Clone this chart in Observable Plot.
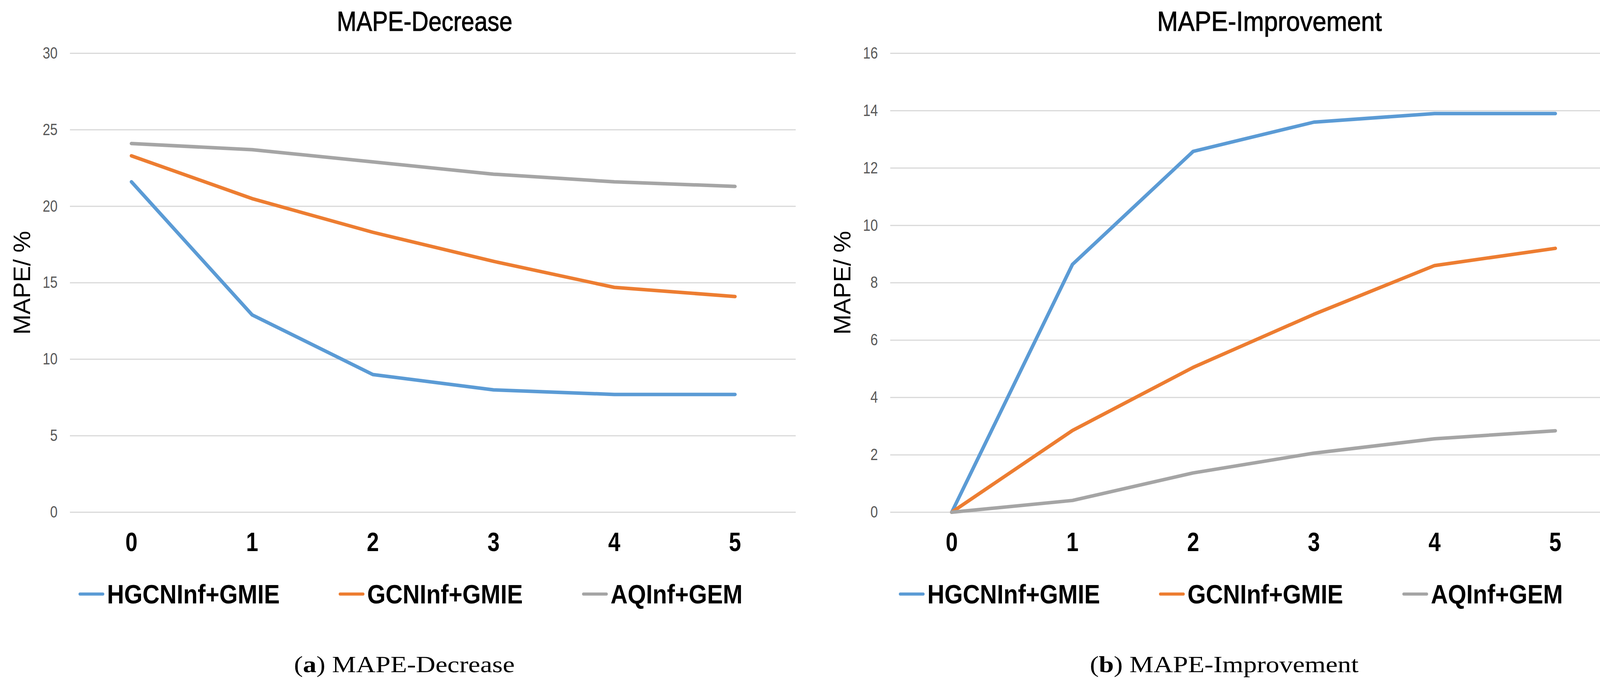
<!DOCTYPE html>
<html>
<head>
<meta charset="utf-8">
<script src="https://cdn.jsdelivr.net/npm/d3@7"></script>
<script src="https://cdn.jsdelivr.net/npm/@observablehq/plot@0.6"></script>
<style>
  html, body { margin: 0; padding: 0; background: #fff; }
  #wrap { position: relative; width: 4168px; height: 1759px; overflow: hidden; background: #fff; }
  .panel { position: absolute; top: 0; }
  .title { position: absolute; top: 19px; font-family: "Liberation Sans", Arial, sans-serif; font-size: 71px;
           line-height: 1; color: #000; white-space: nowrap; transform-origin: center; -webkit-text-stroke: 1.2px #000; }
  .legend { position: absolute; top: 1487px; display: flex; align-items: center; gap: 151px; }
  .item { display: flex; align-items: center; }
  .sw { display: inline-block; width: 66px; height: 8px; border-radius: 4px; margin-right: 7px; }
  .lt { display: inline-block; font-family: "Liberation Sans", Arial, sans-serif; font-weight: bold; font-size: 68px;
        line-height: 1; color: #000; white-space: nowrap; transform: scaleX(0.89); transform-origin: left center; }
  .cap { position: absolute; top: 1671px; font-family: "Liberation Serif", "Times New Roman", serif; font-size: 60px;
         line-height: 1; color: #000; white-space: nowrap; }
</style>
</head>
<body>
<div id="wrap"></div>
<script>
// ---- data ----
const steps = [0, 1, 2, 3, 4, 5];
const seriesNames = ["HGCNInf+GMIE", "GCNInf+GMIE", "AQInf+GEM"];
const seriesColors = ["#5B9BD5", "#ED7D31", "#A5A5A5"];

// (a) MAPE-Decrease
const decHGCN = [21.6, 12.9, 9.0, 8.0, 7.7, 7.7];
const decGCN  = [23.3, 20.5, 18.3, 16.4, 14.7, 14.1];
const decAQ   = [24.1, 23.7, 22.9, 22.1, 21.6, 21.3];
const decTicks = [0, 5, 10, 15, 20, 25, 30];

// (b) MAPE-Improvement
const impHGCN = [0, 8.64, 12.58, 13.6, 13.9, 13.9];
const impGCN  = [0, 2.85, 5.05, 6.9, 8.6, 9.2];
const impAQ   = [0, 0.41, 1.37, 2.06, 2.56, 2.84];
const impTicks = [0, 2, 4, 6, 8, 10, 12, 14, 16];

const titles = ["MAPE-Decrease", "MAPE-Improvement"];
const captionTags = ["a", "b"];
const yTitle = "MAPE/ %";

function toRows(arrs) {
  const rows = [];
  arrs.forEach((arr, si) => arr.forEach((v, i) => rows.push({step: steps[i], value: v, series: seriesNames[si]})));
  return rows;
}

const tickFont = "Liberation Sans, Arial, sans-serif";
const tickSqueeze = 0.82;

// narrow the tick labels horizontally, keeping each label's anchor point
function squeeze(svg, label, sx) {
  svg.querySelectorAll(`g[aria-label="${label}"] text`).forEach(t => {
    const list = t.transform && t.transform.baseVal;
    if (!list || !list.numberOfItems) return;
    const m = list.consolidate().matrix;
    t.setAttribute("transform", `matrix(${sx},0,0,1,${m.e},${m.f})`);
  });
}

const wrap = document.getElementById("wrap");

function panel(rows, ticks, domainMax, left, mLeft, mRight) {
  const chart = Plot.plot({
    width: 2084,
    height: 1430,
    marginTop: 136,
    marginBottom: 119,
    marginLeft: mLeft,
    marginRight: mRight,
    style: { background: "transparent", fontFamily: "Liberation Sans, Arial, sans-serif" },
    x: { type: "point", domain: steps, padding: 0.5 },
    y: { domain: [0, domainMax] },
    color: { domain: seriesNames, range: seriesColors },
    marks: [
      Plot.gridY(ticks, { stroke: "#d9d9d9", strokeOpacity: 1, strokeWidth: 3 }),
      Plot.axisY(ticks, { tickSize: 0, tickPadding: 32, fontSize: 42, fontFamily: tickFont,
                          tickFormat: d => String(d), color: "#595959", label: null }),
      Plot.axisX({ tickSize: 0, tickPadding: 51, fontSize: 68, fontWeight: "bold",
                   fontFamily: tickFont, color: "#000", label: null }),
      Plot.lineY(rows, { x: "step", y: "value", stroke: "series", strokeWidth: 9,
                         strokeLinecap: "round", strokeLinejoin: "round" }),
      Plot.text([yTitle], { frameAnchor: "left", textAnchor: "middle", rotate: -90, dx: -122, fontSize: 62,
                            fill: "#000", fontFamily: "Liberation Sans, Arial, sans-serif" })
    ]
  });
  chart.classList.add("panel");
  chart.style.left = left + "px";
  wrap.appendChild(chart);
  squeeze(chart, "x-axis tick label", tickSqueeze);
  squeeze(chart, "y-axis tick label", tickSqueeze);
}

panel(toRows([decHGCN, decGCN, decAQ]), decTicks, 30, 0, 179, 47);
panel(toRows([impHGCN, impGCN, impAQ]), impTicks, 16, 2084, 195, 31);

// titles
[[titles[0], 1087, 0.85], [titles[1], 3250, 0.90]].forEach(([t, cx, sx]) => {
  const d = document.createElement("div");
  d.className = "title";
  d.textContent = t;
  d.style.left = cx + "px";
  d.style.transform = `translateX(-50%) scaleX(${sx})`;
  wrap.appendChild(d);
});

// legends
[201, 2301].forEach(left => {
  const lg = document.createElement("div");
  lg.className = "legend";
  lg.style.left = left + "px";
  seriesNames.forEach((s, i) => {
    const item = document.createElement("div");
    item.className = "item";
    const sw = document.createElement("span");
    sw.className = "sw";
    sw.style.background = seriesColors[i];
    const tx = document.createElement("span");
    tx.className = "lt";
    tx.textContent = s;
    item.append(sw, tx);
    lg.appendChild(item);
  });
  wrap.appendChild(lg);
  lg.querySelectorAll(".lt").forEach(el => {
    el.style.marginRight = (-(1 - 0.89) * el.offsetWidth) + "px";
  });
});

// captions
[[0, 1035], [1, 3134]].forEach(([i, cx]) => {
  const c = document.createElement("div");
  c.className = "cap";
  c.innerHTML = `(<b>${captionTags[i]}</b>) ${titles[i]}`;
  c.style.left = cx + "px";
  c.style.transform = "translateX(-50%) scaleX(1.15)";
  wrap.appendChild(c);
});
</script>
</body>
</html>
